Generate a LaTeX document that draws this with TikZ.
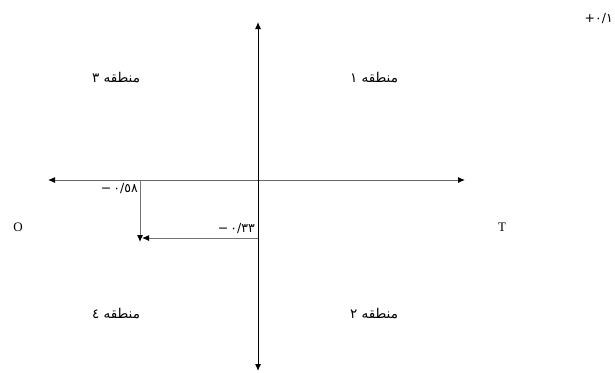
\documentclass[tikz,border=0pt]{standalone}
\usepackage{fontspec}
\setmainfont{Liberation Serif}
\newfontfamily\arabicfont[Script=Arabic]{DejaVu Sans}
\TeXXeTstate=1
\usetikzlibrary{arrows.meta}

\begin{document}
\begin{tikzpicture}[x=1pt, y=-1pt,
  axis/.style={line width=1pt, {Latex[length=7pt,width=6pt,color=black]}-{Latex[length=7pt,width=6pt,color=black]}},
  moveline/.style={draw=black!55, line width=1pt, -{Latex[length=7pt,width=6pt,color=black]}},
  zone/.style={font=\arabicfont\fontsize{13.5}{15}\selectfont},
  val/.style={font=\arabicfont\fontsize{12.5}{14}\selectfont, inner sep=1pt},
  pole/.style={font=\fontsize{13}{15}\selectfont},
]
\useasboundingbox (0,0) rectangle (615,372);
% axes
\coordinate (west) at (48,180);
\coordinate (east) at (465,180);
\coordinate (north) at (258,22);
\coordinate (south) at (258,371);
\draw[axis, draw=black!60] (west) -- (east);
\draw[axis] (north) -- (south);
% zones
\node[zone] (z1) at (374,78) {\beginR منطقه ١\endR};
\node[zone] (z3) at (116,78) {\beginR منطقه ٣\endR};
\node[zone] (z2) at (374,314) {\beginR منطقه ٢\endR};
\node[zone] (z4) at (116,314) {\beginR منطقه ٤\endR};
% poles
\node[pole] (O) at (18,227) {O};
\node[pole] (T) at (502,227) {T};
% values
\node[val, anchor=east] (top) at (614,19) {\mbox{+}\mbox{٠/١}};
\node[val, anchor=east] (v58) at (139,189) {\mbox{−}\kern2pt\mbox{٠/٥٨}};
\node[val, anchor=east] (v33) at (256,229) {\mbox{−}\kern2pt\mbox{٠/٣٣}};
% shift arrows
\coordinate (a) at (140,180);
\coordinate (b) at (140,242);
\coordinate (c) at (258,238);
\coordinate (d) at (142,238);
\draw[moveline] (a) -- (b);
\draw[moveline] (c) -- (d);
\end{tikzpicture}
\end{document}
